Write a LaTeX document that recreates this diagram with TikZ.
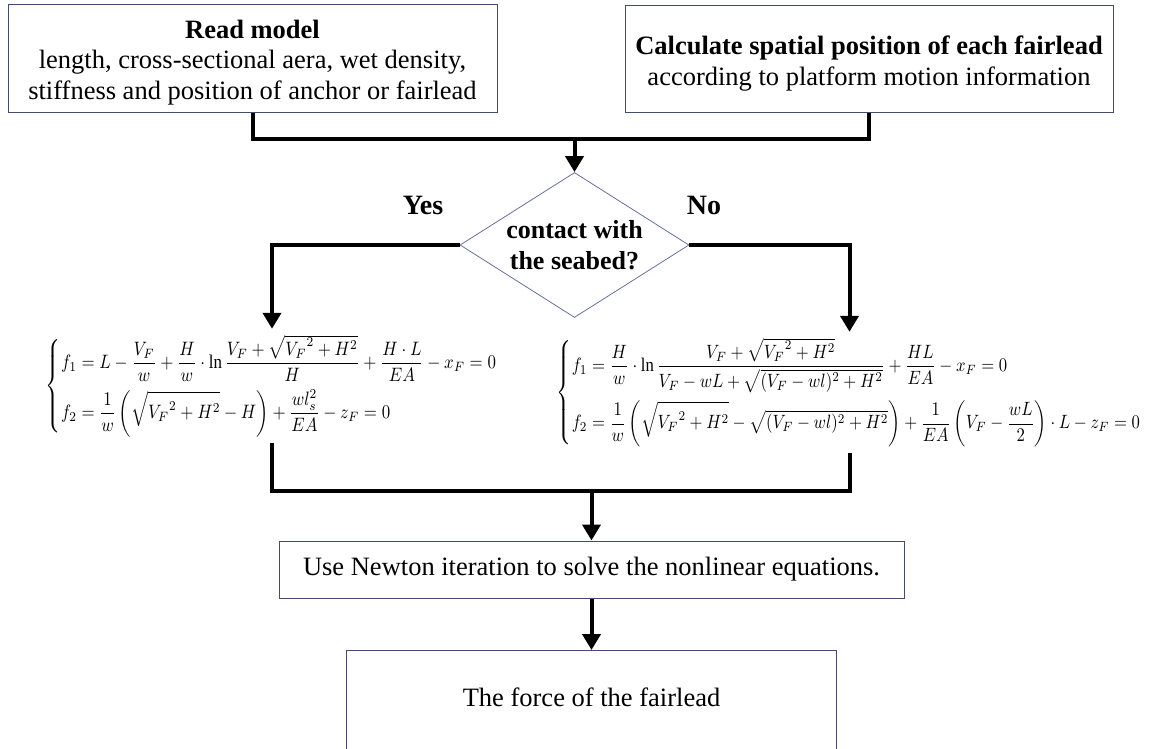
\documentclass[tikz,border=0pt]{standalone}
\usepackage{fontspec}
\setmainfont{Liberation Serif}
\usepackage{amsmath,mathtools}
\usetikzlibrary{shapes.geometric,arrows.meta}
\definecolor{boxc}{RGB}{68,76,110}
\definecolor{diac}{RGB}{104,112,160}
\tikzset{
  box/.style={draw=boxc, line width=1pt, inner sep=0pt, align=center,
              font=\fontsize{26.5}{31}\selectfont},
  conn/.style={line width=4pt, draw=black},
  arr/.style={conn, -{Triangle[width=18pt,length=16pt]}},
  lbl/.style={font=\fontsize{28}{32}\selectfont\bfseries, inner sep=0pt},
  eqn/.style={inner sep=6pt}
}
\begin{document}
\begin{tikzpicture}[x=1pt,y=-1pt]
\clip (0,0) rectangle (1156,749);
\fill[white] (0,0) rectangle (1156,749);

\node[box, minimum width=489pt, minimum height=108pt, text height=82pt, text depth=0pt] (read) at (252.5,59)
  {\textbf{Read model}\\length, cross-sectional aera, wet density,\\stiffness and position of anchor or fairlead};
\node[box, minimum width=488pt, minimum height=107pt, text height=53pt, text depth=0pt] (calc) at (869,59.5)
  {\textbf{Calculate spatial position of each fairlead}\\according to platform motion information};

\node[diamond, draw=diac, line width=0.8pt, inner sep=0pt, aspect=1.58,
      minimum width=229pt, minimum height=145pt, align=center,
      font=\fontsize{26}{31}\selectfont\bfseries] (dec) at (574.5,245)
  {contact with\\the seabed?};

\node[lbl] (yes) at (423,205) {Yes};
\node[lbl] (no) at (704,205) {No};

\node[eqn] (eqL) at (272,386) {\resizebox*{452pt}{102pt}{$\begin{dcases}
f_1 = L-\frac{V_F}{w}+\frac{H}{w}\cdot\ln\frac{V_F+\sqrt{{V_F}^2+H^2}}{H}+\frac{H\cdot L}{EA}-x_F=0\\
f_2=\frac{1}{w}\left(\sqrt{{V_F}^2+H^2}-H\right)+\frac{wl_s^2}{EA}-z_F=0
\end{dcases}$}};

\node[eqn] (eqR) at (849.5,392.5) {\resizebox*{585pt}{109pt}{$\begin{dcases}
f_1=\frac{H}{w}\cdot\ln\frac{V_F+\sqrt{{V_F}^2+H^2}}{V_F-wL+\sqrt{(V_F-wl)^2+H^2}}+\frac{HL}{EA}-x_F=0\\
f_2=\frac{1}{w}\left(\sqrt{{V_F}^2+H^2}-\sqrt{(V_F-wl)^2+H^2}\right)+\frac{1}{EA}\left(V_F-\frac{wL}{2}\right)\cdot L-z_F=0
\end{dcases}$}};

\node[box, minimum width=625pt, minimum height=57pt] (newton) at (591.5,569.5)
  {Use Newton iteration to solve the nonlinear equations.};
\node[box, draw=none, minimum width=489pt, minimum height=94pt, anchor=north] (force) at (591.5,650)
  {The force of the fairlead};
\draw[draw=boxc, line width=1pt] ([yshift=-12pt]force.south west) -- (force.north west)
  -- (force.north east) -- ([yshift=-12pt]force.south east);

\coordinate (j1) at (574.5,139);
\coordinate (j2) at (591.5,491);

\draw[conn] (read.south) |- (calc.south |- j1) -- (calc.south);
\draw[arr] (j1) -- (dec.north);
\draw[arr] (dec.west) -| (eqL.north);
\draw[arr] (dec.east) -| (eqR.north);
\draw[conn] (eqL.south) |- (eqR.south |- j2) -- (eqR.south);
\draw[arr] (j2) -- (newton.north);
\draw[arr] (newton.south) -- (force.north);
\end{tikzpicture}
\end{document}
